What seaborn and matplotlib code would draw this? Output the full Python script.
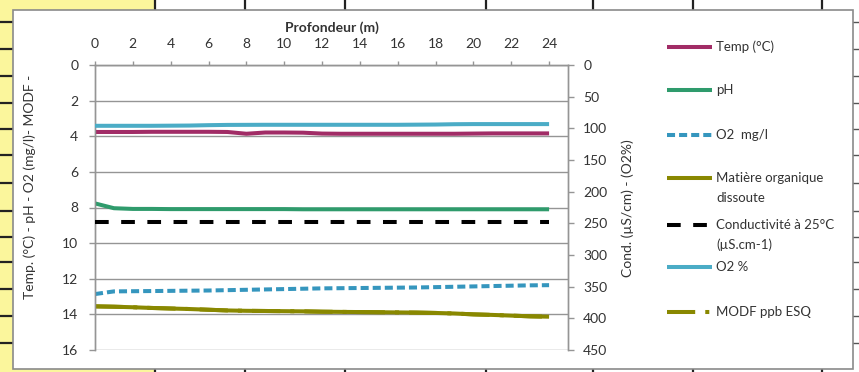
import matplotlib
matplotlib.use("Agg")
import matplotlib.pyplot as plt
from matplotlib.lines import Line2D
from matplotlib.patches import Rectangle
import pandas as pd
import seaborn as sns

# ---------------- data ----------------
depth = list(range(0, 25))
temp = [3.76, 3.76, 3.76, 3.75, 3.75, 3.75, 3.75, 3.76, 3.86, 3.79, 3.79, 3.80,
        3.85, 3.86, 3.86, 3.86, 3.86, 3.86, 3.86, 3.86, 3.85, 3.84, 3.84, 3.84, 3.84]
ph = [7.77, 8.04, 8.08, 8.08, 8.09, 8.09, 8.09, 8.09, 8.09, 8.09, 8.09, 8.10,
      8.10, 8.10, 8.10, 8.10, 8.10, 8.10, 8.10, 8.10, 8.10, 8.10, 8.10, 8.10, 8.10]
o2_mgl = [12.86, 12.71, 12.70, 12.69, 12.68, 12.67, 12.66, 12.64, 12.62, 12.60, 12.58, 12.56,
          12.54, 12.53, 12.52, 12.51, 12.50, 12.49, 12.47, 12.45, 12.43, 12.41, 12.39, 12.37, 12.36]
mod = [13.55, 13.57, 13.60, 13.64, 13.67, 13.70, 13.74, 13.78, 13.80, 13.81, 13.82, 13.83,
       13.85, 13.86, 13.87, 13.88, 13.89, 13.90, 13.92, 13.95, 14.00, 14.03, 14.07, 14.11, 14.13]
modf = mod[:]  # MODF ppb ESQ overlaps the dissolved organic matter curve
conductivity = [248] * 25
o2_pct = [96.0, 96.0, 96.0, 96.0, 95.8, 95.6, 95.0, 94.6, 94.5, 94.4, 94.4, 94.4,
          94.4, 94.4, 94.4, 94.4, 94.4, 94.2, 94.0, 93.5, 93.3, 93.3, 93.3, 93.3, 93.3]

x_ticks = list(range(0, 25, 2))
left_ticks = list(range(0, 17, 2))
right_ticks = list(range(0, 451, 50))

labels = ["Temp (°C)", "pH", "O2  mg/l", "Matière organique\ndissoute",
          "Conductivité à 25°C\n(µS.cm-1)", "O2 %", "MODF ppb ESQ"]

# ---------------- style ----------------
W, H = 859, 372
FONT = ["Lato", "DejaVu Sans"]
plt.rcParams["font.family"] = FONT
TXT = "#333333"
GRAY = "#959595"

C_TEMP = "#A12C66"
C_PH = "#2F9B6C"
C_O2 = "#3596BE"
C_O2P = "#4BACC6"
C_OLIVE = "#898800"
LW = 2.9

styles = [
    dict(color=C_TEMP, lw=LW, ls="-", cap="butt"),
    dict(color=C_PH, lw=LW, ls="-", cap="butt"),
    dict(color=C_O2, lw=LW, ls=(0, (2.0, 1.0)), cap="butt"),
    dict(color=C_OLIVE, lw=LW, ls="-", cap="butt"),
    dict(color="black", lw=LW, ls=(0, (3.4, 3.1)), cap="butt"),
    dict(color=C_O2P, lw=LW, ls="-", cap="butt"),
    dict(color=C_OLIVE, lw=LW, ls=(0, (7, 2.5, 1, 2.5)), cap="butt"),
]

def fx(px):
    return px / W

def fy(py):
    return 1 - py / H

fig = plt.figure(figsize=(W / 100, H / 100), dpi=100)
fig.patch.set_facecolor("white")

# ---------------- spreadsheet surroundings ----------------
YEL = "#FBF69C"
for rect in [(0, 0, fx(12.5), 1),
             (0, fy(9.5), fx(155), 1 - fy(9.5)),
             (0, 0, fx(155), 1 - fy(369))]:
    fig.add_artist(Rectangle(rect[:2], rect[2], rect[3], transform=fig.transFigure,
                             facecolor=YEL, edgecolor="none", zorder=-5))
for ry in [22, 49, 76, 103, 129, 155, 183, 211, 237, 262, 289, 316, 343]:
    fig.add_artist(Line2D([0, fx(12)], [fy(ry), fy(ry)], transform=fig.transFigure,
                          color="#222222", lw=1.6, zorder=-4))
    fig.add_artist(Line2D([fx(853), 1], [fy(ry), fy(ry)], transform=fig.transFigure,
                          color="#555555", lw=1.0, zorder=-4))
for cx in [155, 245, 345, 486, 593, 693, 822]:
    fig.add_artist(Line2D([fx(cx), fx(cx)], [fy(0), fy(9)], transform=fig.transFigure,
                          color="#222222", lw=1.6, zorder=-4))
    fig.add_artist(Line2D([fx(cx), fx(cx)], [fy(369), fy(372)], transform=fig.transFigure,
                          color="#222222", lw=1.6, zorder=-4))
# chart-area frame
fig.add_artist(Rectangle((fx(12.5), fy(369)), fx(853) - fx(12.5), fy(9.5) - fy(369),
                         transform=fig.transFigure, facecolor="white",
                         edgecolor="#8A8A8A", lw=1.2, zorder=-3))

# ---------------- axes ----------------
ax = fig.add_axes([fx(95), fy(350), fx(568) - fx(95), fy(65) - fy(350)])
ax.set_facecolor("none")
ax2 = ax.twinx()

df = pd.DataFrame(dict(depth=depth, temp=temp, ph=ph, o2=o2_mgl, mod=mod, modf=modf,
                       cond=conductivity, o2p=o2_pct))

left_series = [("temp", 0), ("ph", 1), ("o2", 2), ("mod", 3), ("modf", 6)]
right_series = [("cond", 4), ("o2p", 5)]
for col, i in left_series:
    s = styles[i]
    sns.lineplot(data=df, x="depth", y=col, ax=ax, color=s["color"], linewidth=s["lw"],
                 linestyle=s["ls"], solid_capstyle=s["cap"], dash_capstyle=s["cap"],
                 legend=False, zorder=3)
for col, i in right_series:
    s = styles[i]
    sns.lineplot(data=df, x="depth", y=col, ax=ax2, color=s["color"], linewidth=s["lw"],
                 linestyle=s["ls"], solid_capstyle=s["cap"], dash_capstyle=s["cap"],
                 legend=False, zorder=3)

ax.set_xlim(0, 25)
ax.set_ylim(16, 0)
ax2.set_ylim(450, 0)
ax.set_xticks(x_ticks)
ax.set_yticks(left_ticks)
ax2.set_yticks(right_ticks)

ax.xaxis.tick_top()
ax.xaxis.set_label_position("top")
ax.set_xlabel("Profondeur (m)", fontsize=10, fontweight="bold", color=TXT, labelpad=4)
ax.set_ylabel("")
ax2.set_ylabel("")

ax.grid(axis="y", color=GRAY, lw=1.0, zorder=1)
ax.grid(axis="x", visible=False)
ax2.grid(False)

for a in (ax, ax2):
    for sp in a.spines.values():
        sp.set_color(GRAY)
        sp.set_linewidth(1.0)
ax.spines["bottom"].set_visible(False)
ax2.spines["bottom"].set_visible(False)

ax.tick_params(axis="x", which="both", top=True, bottom=False, direction="out",
               length=3, width=1, color=GRAY, labelsize=10, labelcolor=TXT, pad=8)
ax.tick_params(axis="y", direction="out", length=4.5, width=1, color=GRAY,
               labelsize=10, labelcolor=TXT, pad=7.5)
ax2.tick_params(axis="y", direction="out", length=4.5, width=1, color=GRAY,
                labelsize=10, labelcolor=TXT, pad=6.5)

fig.text(fx(30), fy(187), "Temp. (°C) - pH - O2 (mg/l)- MODF -", rotation=90,
         ha="center", va="center", fontsize=10, color=TXT)
fig.text(fx(628), fy(208), "Cond. (µS/cm) - (O2%)", rotation=90,
         ha="center", va="center", fontsize=10, color=TXT)

# ---------------- legend ----------------
leg_y = [47, 90, 135, 178, 225, 267, 312]
for lab, s, yy in zip(labels, styles, leg_y):
    fig.add_artist(Line2D([fx(667), fx(712)], [fy(yy), fy(yy)], transform=fig.transFigure,
                          color=s["color"], lw=s["lw"], ls=s["ls"],
                          solid_capstyle=s["cap"], dash_capstyle=s["cap"], zorder=3))
    lines = lab.split("\n")
    for k, ln in enumerate(lines):
        fig.text(fx(716), fy(yy + k * 20), ln, ha="left", va="center",
                 fontsize=9.5, color=TXT)

fig.savefig("out.png", dpi=100, facecolor=fig.get_facecolor())
